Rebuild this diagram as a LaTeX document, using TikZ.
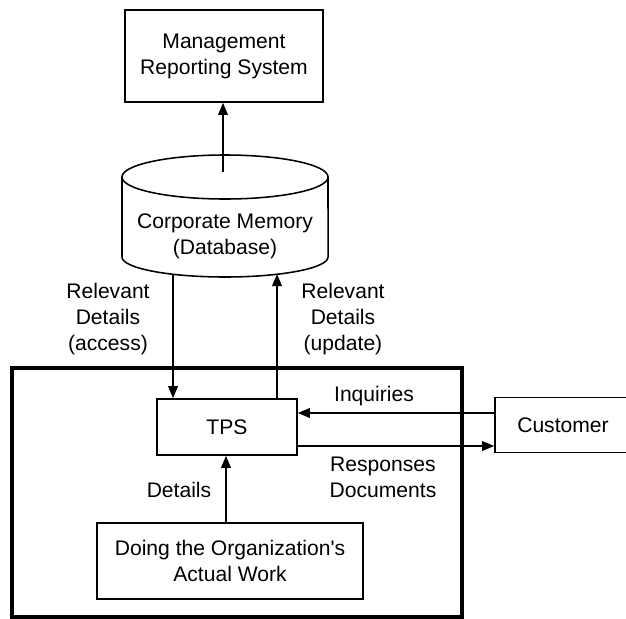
\documentclass[tikz,border=0pt]{standalone}
\usepackage{fontspec}
\setmainfont{Liberation Sans}
\usetikzlibrary{arrows.meta}
\usetikzlibrary{positioning}

\tikzset{
  box/.style={draw,line width=1.1pt,align=center,inner sep=0pt},
  lbl/.style={align=center,inner sep=0pt},
  arr/.style={line width=1.1pt,-{Triangle[length=3mm,width=2.4mm]}},
}

\begin{document}
\begin{tikzpicture}[x=0.025cm,y=-0.025cm,font=\fontsize{15}{18.5}\selectfont]
\clip (0,0) rectangle (626,619);

% boxes
\node[box,minimum width=4.95cm,minimum height=2.3cm] (mrs) at (224,56) {Management\\Reporting System};
\node[box,minimum width=3.5cm,minimum height=1.4cm] (tps) at (227,427) {TPS};
\node[box,minimum width=3.4cm,minimum height=1.375cm] (cust) at (563,425) {Customer};
\node[box,minimum width=6.65cm,minimum height=1.9cm] (work) at (230,561) {Doing the Organization\textquotesingle s\\Actual Work};
\draw[line width=2.6pt] (12,368) rectangle (462,617);

% corporate memory
\draw[line width=1.1pt] (122,177) -- (122,257) arc[start angle=180,end angle=360,x radius=2.575cm,y radius=0.5cm] -- (328,177);
\draw[line width=1.1pt] (225,177) ellipse [x radius=2.575cm,y radius=0.55cm];
\node[lbl] (db) at (225,236) {Corporate Memory\\(Database)};
\coordinate (dbtop) at (223,172);
\coordinate (dbl) at (173,274);
\coordinate (dbr) at (277,274);

% labels
\node[lbl] (acc) at (108,319) {Relevant\\Details\\(access)};
\node[lbl] (upd) at (343,319) {Relevant\\Details\\(update)};
\node[lbl] (inq) at (374,396) {Inquiries};
\node[lbl] (resp) at (383,477) {Responses\\Documents};
\node[lbl] (det) at (179,490) {Details};

% arrows
\draw[arr] (dbtop) -- (dbtop |- mrs.south);
\draw[arr] (dbl) -- (dbl |- tps.north);
\draw[arr] (dbr |- tps.north) -- (dbr);
\draw[arr] (cust.west |- 0,413) -- (tps.east |- 0,413);
\draw[arr] (tps.east |- 0,446) -- (cust.west |- 0,446);
\draw[arr] (work.north -| 226,0) -- (tps.south -| 226,0);

\end{tikzpicture}
\end{document}
